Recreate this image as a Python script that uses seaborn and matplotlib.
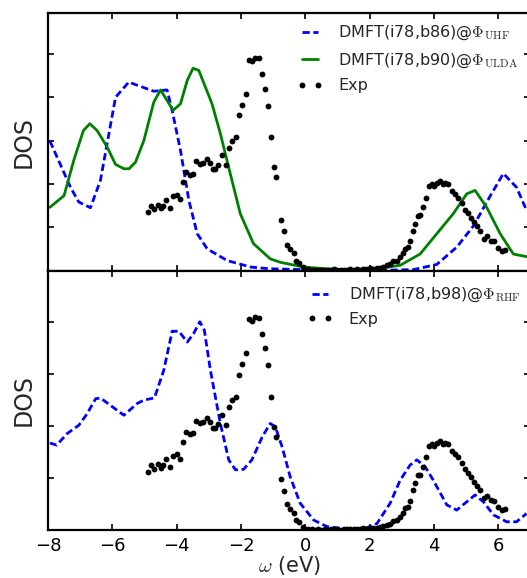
import numpy as np
import pandas as pd
import matplotlib
matplotlib.use("Agg")
import matplotlib.pyplot as plt
import seaborn as sns

# ---------------- data ----------------
uhf_x = [-7.94, -7.30, -7.04, -6.68, -6.37, -5.90, -5.49, -4.71, -4.30, -4.14, -3.88,
         -3.62, -3.36, -3.05, -2.43, -1.70, -1.09, -0.06, 1.00, 2.00, 3.36, 4.09, 4.71,
         5.23, 5.75, 6.16, 6.57, 6.88]
uhf_y = [2.99, 1.92, 1.58, 1.45, 2.08, 4.00, 4.35, 4.14, 4.17, 3.70, 2.77,
         1.62, 0.85, 0.50, 0.23, 0.08, 0.04, 0.02, 0.01, 0.00, 0.02, 0.14, 0.54,
         1.03, 1.72, 2.24, 1.92, 1.39]

ulda_x = [-7.94, -7.50, -7.20, -6.90, -6.70, -6.47, -6.16, -5.90, -5.64, -5.48, -5.28,
          -5.02, -4.71, -4.50, -4.30, -4.11, -3.88, -3.67, -3.49, -3.31, -2.90, -2.64,
          -2.33, -2.02, -1.61, -1.09, -0.78, -0.05, 1.00, 2.00, 2.95, 3.57, 4.09, 4.60,
          5.02, 5.28, 5.64, 6.06, 6.47, 6.88]
ulda_y = [1.46, 1.73, 2.54, 3.23, 3.39, 3.23, 2.85, 2.45, 2.35, 2.35, 2.50,
          3.00, 3.89, 4.17, 3.93, 3.70, 3.85, 4.39, 4.67, 4.62, 3.85, 3.16,
          2.23, 1.31, 0.62, 0.27, 0.19, 0.08, 0.02, 0.02, 0.12, 0.38, 0.85, 1.31,
          1.77, 1.85, 1.46, 0.85, 0.38, 0.32]

rhf_x = [-7.94, -7.73, -7.40, -7.04, -6.78, -6.52, -6.37, -6.06, -5.64, -5.23, -5.02,
         -4.69, -4.40, -4.14, -3.93, -3.67, -3.47, -3.28, -3.14, -2.95, -2.64, -2.38,
         -2.17, -1.92, -1.66, -1.34, -1.09, -0.93, -0.72, -0.47, -0.16, 0.26, 0.67,
         1.30, 1.81, 2.23, 2.64, 2.95, 3.26, 3.47, 3.73, 3.98, 4.40, 4.71, 4.97, 5.28,
         5.54, 5.85, 6.26, 6.57, 6.88]
rhf_y = [2.01, 1.96, 2.23, 2.42, 2.69, 3.03, 3.05, 2.88, 2.65, 2.92, 3.00,
         3.05, 3.69, 4.59, 4.59, 4.34, 4.54, 4.81, 4.62, 3.69, 2.46, 1.62,
         1.39, 1.40, 1.62, 2.15, 2.46, 2.38, 1.92, 1.23, 0.62, 0.23, 0.08,
         0.02, 0.02, 0.15, 0.62, 1.15, 1.50, 1.62, 1.46, 1.15, 0.58, 0.46, 0.62, 0.81,
         0.65, 0.35, 0.19, 0.19, 0.38]

exp_x = [-4.90, -4.79, -4.69, -4.59, -4.48, -4.42, -4.32, -4.21, -4.11, -3.98, -3.90,
         -3.81, -3.70, -3.57, -3.49, -3.39, -3.28, -3.18, -3.07, -2.97, -2.87, -2.80,
         -2.71, -2.58, -2.48, -2.37, -2.27, -2.15, -2.06, -1.96, -1.85, -1.75, -1.66,
         -1.55, -1.45, -1.34, -1.25, -1.17, -1.06, -0.98, -0.90, -0.77, -0.67, -0.57,
         -0.47, -0.36, -0.28, -0.19, -0.08, -0.02,
         0.10, 0.20, 0.30, 0.40, 0.50, 0.60, 0.70, 0.80, 0.90, 1.00, 1.10, 1.20, 1.30,
         1.40, 1.50, 1.60, 1.70, 1.80, 1.90, 2.00,
         2.12, 2.22, 2.33, 2.43, 2.54, 2.64, 2.74, 2.85, 2.93, 3.03, 3.11, 3.18, 3.26,
         3.34, 3.42, 3.49, 3.56, 3.66, 3.76, 3.86, 3.93, 4.01, 4.11, 4.19, 4.28, 4.35,
         4.45, 4.57, 4.66, 4.76, 4.87, 4.97, 5.05, 5.15, 5.25, 5.35, 5.43, 5.56, 5.66,
         5.77, 5.87, 6.00, 6.11, 6.21]
exp_y = [1.35, 1.50, 1.42, 1.52, 1.44, 1.50, 1.63, 1.45, 1.72, 1.75, 1.64,
         2.04, 2.27, 2.21, 2.23, 2.52, 2.46, 2.49, 2.58, 2.49, 2.35, 2.35,
         2.44, 2.66, 2.43, 2.83, 3.00, 3.08, 3.58, 3.83, 4.08, 4.87, 4.83,
         4.91, 4.90, 4.53, 4.20, 3.81, 3.08, 2.39, 2.15, 1.17, 0.91, 0.59,
         0.49, 0.40, 0.23, 0.18, 0.08, 0.02,
         0.03, 0.02, 0.01, 0.02, 0.01, 0.02, 0.01, 0.02, 0.03, 0.02, 0.01, 0.02, 0.02,
         0.03, 0.02, 0.03, 0.02, 0.04, 0.03, 0.05,
         0.04, 0.05, 0.06, 0.09, 0.12, 0.15, 0.21, 0.23, 0.31, 0.40, 0.50, 0.54, 0.67,
         0.92, 1.08, 1.27, 1.28, 1.46, 1.68, 1.94, 1.99, 1.94, 2.02, 2.06, 1.99, 2.01,
         1.99, 1.83, 1.76, 1.68, 1.55, 1.40, 1.32, 1.22, 1.12, 1.02, 0.92, 0.73, 0.79,
         0.69, 0.68, 0.52, 0.46, 0.48]

x_ticks = [-8, -6, -4, -2, 0, 2, 4, 6]
top_yticks = [1, 2, 3, 4, 5]
bot_yticks = [1.2, 2.4, 3.6, 4.8]

lab_uhf = r"DMFT(i78,b86)@$\Phi_{\rm UHF}$"
lab_ulda = r"DMFT(i78,b90)@$\Phi_{\rm ULDA}$"
lab_rhf = r"DMFT(i78,b98)@$\Phi_{\rm RHF}$"
lab_exp = "Exp"

# ---------------- style ----------------
sns.set_style("white")
plt.rcParams["font.family"] = ["DejaVu Sans"]
plt.rcParams["mathtext.fontset"] = "cm"

W, H = 527, 578
fig = plt.figure(figsize=(W / 100, H / 100), dpi=100)

left_px, right_px = 48, 530.4
ax_w = (right_px - left_px) / W
ax_top = fig.add_axes([left_px / W, (H - 270.5) / H, ax_w, 257.5 / H])
ax_bot = fig.add_axes([left_px / W, (H - 530) / H, ax_w, 259.5 / H])

blue = (0, 0, 1)
green = (0, 0.5, 0)
dash = (0, (2.6, 1.3))

# top panel
sns.lineplot(x=uhf_x, y=uhf_y, ax=ax_top, color=blue, lw=2, linestyle=dash,
             label=lab_uhf, sort=False, estimator=None)
sns.lineplot(x=ulda_x, y=ulda_y, ax=ax_top, color=green, lw=2,
             label=lab_ulda, sort=False, estimator=None)
sns.lineplot(x=exp_x, y=exp_y, ax=ax_top, color="k", linestyle="", marker="o",
             markersize=4.2, markeredgecolor="k", markeredgewidth=0,
             label=lab_exp, sort=False, estimator=None)

# bottom panel
sns.lineplot(x=rhf_x, y=rhf_y, ax=ax_bot, color=blue, lw=2, linestyle=dash,
             label=lab_rhf, sort=False, estimator=None)
sns.lineplot(x=exp_x, y=exp_y, ax=ax_bot, color="k", linestyle="", marker="o",
             markersize=4.2, markeredgecolor="k", markeredgewidth=0,
             label=lab_exp, sort=False, estimator=None)

for ax, yt, ytop in ((ax_top, top_yticks, 257.5 / 43.3), (ax_bot, bot_yticks, 259.5 / 43.3)):
    ax.set_xlim(-8, 7)
    ax.set_ylim(0, ytop)
    ax.set_xticks(x_ticks)
    ax.set_xticklabels([f"\u2212{abs(t)}" if t < 0 else str(t) for t in x_ticks])
    ax.set_yticks(yt)
    ax.tick_params(direction="in", length=4.5, width=1.2, top=True, right=True,
                   bottom=True, left=True, labelleft=False, labelsize=13, pad=5,
                   colors="k")
    for s in ax.spines.values():
        s.set_color("k")
        s.set_linewidth(1.6)
    ax.set_ylabel("DOS", fontsize=17, labelpad=9)
    ax.grid(False)

ax_top.tick_params(labelbottom=False)
ax_top.set_xlabel("")
ax_bot.set_xlabel(r"$\omega$ (eV)", fontsize=15, labelpad=-1)

leg_kw = dict(frameon=False, fontsize=11.5, borderpad=0, borderaxespad=0,
              handlelength=1.6, handletextpad=1.0, numpoints=2, loc="upper left")
ax_top.legend(bbox_to_anchor=(0.516, 0.957), labelspacing=0.55, **leg_kw)
ax_bot.legend(bbox_to_anchor=(0.537, 0.94), labelspacing=0.45, **leg_kw)

fig.savefig("out.png", dpi=100)
